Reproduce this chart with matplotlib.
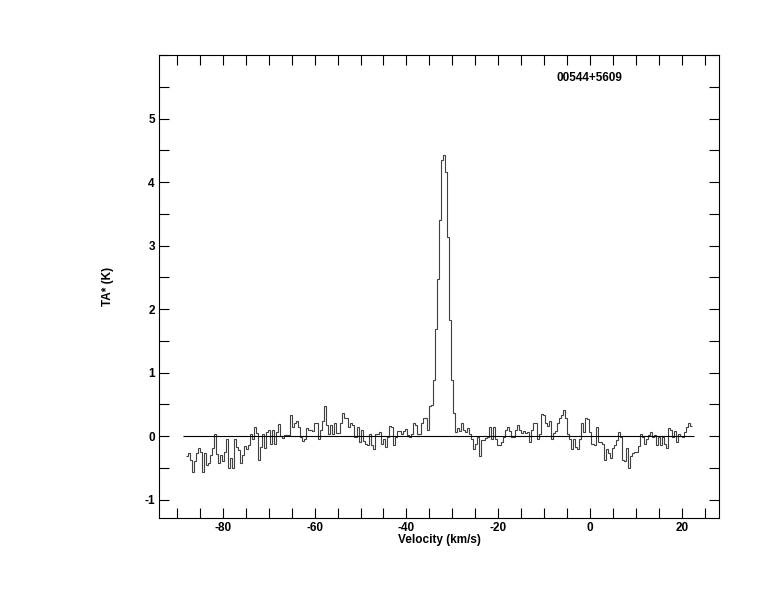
import numpy as np
import matplotlib
matplotlib.use('Agg')
import matplotlib.pyplot as plt
from matplotlib.ticker import MultipleLocator

plt.rcParams['font.family'] = ['Liberation Sans', 'DejaVu Sans']
plt.rcParams['axes.unicode_minus'] = False

# spectrum: first channel edge and channel width (km/s)
v_start = -88.06
chan_width = 0.4375

# antenna temperature per channel (K), read left to right
ta_left = [-0.32, -0.27, -0.38, -0.56, -0.40, -0.27, -0.18, -0.25, -0.56, -0.27,
           -0.46, -0.42, -0.30, -0.18, 0.03, -0.28, -0.42, -0.30, -0.39, -0.25,
           -0.04, -0.51, -0.34, -0.51, -0.04, -0.17, -0.22, -0.43, -0.30, -0.16,
           -0.21, -0.14, 0.03, -0.04, 0.14, 0.05, -0.38, -0.17, 0.03, -0.18,
           0.07, 0.10, -0.12, 0.10, -0.13, 0.07, 0.19, 0.00, -0.03, 0.02,
           0.02, 0.02, 0.33, 0.15, 0.20, 0.23, 0.15, -0.01, -0.07, -0.05,
           0.12, 0.10]
ta_mid = [0.10, 0.08, 0.21, 0.20, -0.04, 0.10, 0.24, 0.47, 0.17, 0.04,
          0.17, 0.03, 0.21, 0.05, 0.05, 0.21, 0.37, 0.28, 0.28, 0.15,
          0.21, 0.17, -0.01, 0.14, -0.10, 0.09, -0.07, -0.12, -0.14, 0.04,
          -0.14, -0.21, 0.04, 0.03, 0.06, -0.12, -0.04, -0.17, -0.01, 0.16,
          0.15, -0.14, -0.01, 0.08, 0.08, 0.03, 0.08, 0.11, 0.02, -0.01,
          0.04, 0.20, 0.17, 0.04, 0.04, 0.21, 0.28, 0.28, 0.10, 0.47,
          0.49]
ta_peak = [0.88, 1.69, 2.48, 3.40, 4.35, 4.42, 4.16, 3.13, 1.82, 0.88]
ta_right = [0.36, 0.07, 0.12, 0.08, 0.20, 0.10, 0.07, 0.12, 0.04, -0.05,
            -0.21, -0.12, -0.02, -0.32, -0.06, -0.06, -0.03, -0.01, 0.15, -0.04,
            0.15, -0.04, -0.14, -0.14, -0.09, -0.01, 0.09, 0.15, 0.08, -0.01,
            -0.01, 0.09, 0.18, 0.10, 0.05, 0.08, 0.05, 0.07, -0.09, 0.10,
            0.20, 0.20, -0.05, 0.04, 0.34, 0.33, 0.20, 0.16, 0.23, -0.04,
            0.05, 0.08, 0.20, 0.28, 0.33, 0.41, 0.28, 0.04]
ta_end = [-0.04, -0.21, -0.04, -0.17, -0.21, -0.04, 0.20, 0.07, 0.28, 0.27,
          0.07, -0.12, -0.14, 0.14, -0.09, -0.10, -0.12, -0.38, -0.21, -0.27,
          -0.35, -0.19, -0.14, -0.06, 0.06, -0.01, -0.38, -0.39, -0.19, -0.51,
          -0.32, -0.27, -0.25, -0.25, -0.16, 0.04, -0.01, -0.12, -0.04, 0.02,
          0.06, -0.01, 0.02, -0.14, -0.01, -0.14, -0.01, -0.12, -0.19, 0.12,
          0.09, -0.01, 0.08, -0.10, 0.04, 0.00, -0.01, 0.07, 0.14, 0.21,
          0.16]

source_name = '00544+5609'
baseline_range = (-88.7, 22.6)
ytick_labels = [-1, 0, 1, 2, 3, 4, 5]

ta = np.array(ta_left + ta_mid + ta_peak + ta_right + ta_end)
edges = v_start + chan_width * np.arange(len(ta) + 1)

fig = plt.figure(figsize=(7.74, 6.12), dpi=100)
ax = fig.add_axes([0.2054, 0.1536, 0.7236, 0.7565])

ax.stairs(ta, edges, baseline=None, color='#404040', lw=0.8)
ax.hlines(0, baseline_range[0], baseline_range[1], color='black', lw=0.8)

ax.set_xlim(-93.9, 28.1)
ax.set_ylim(-1.29, 6.0)

ax.xaxis.set_major_locator(MultipleLocator(20))
ax.xaxis.set_minor_locator(MultipleLocator(5))
ax.set_yticks(ytick_labels)
ax.yaxis.set_minor_locator(MultipleLocator(0.5))
ax.tick_params(which='both', direction='in', length=7, width=0.8,
               top=True, right=True, labelsize=8.5, pad=3)
for lbl in ax.get_xticklabels() + ax.get_yticklabels():
    lbl.set_fontweight('bold')
for s in ax.spines.values():
    s.set_linewidth(0.8)

ax.set_xlabel('Velocity (km/s)', fontsize=8.5, fontweight='bold', labelpad=0)
ax.set_ylabel('TA* (K)', fontsize=8.5, fontweight='bold', labelpad=22)

ax.text(-7.2, 5.64, source_name, fontsize=8.5, fontweight='bold',
        ha='left', va='center')

fig.savefig('out.png', dpi=100)
